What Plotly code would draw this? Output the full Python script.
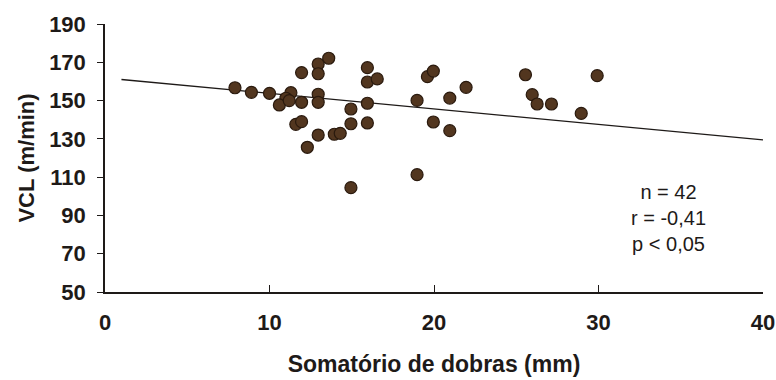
import plotly.graph_objects as go

# Data
somatorio = [7.9, 8.9, 10.0, 11.3, 11.0, 10.6, 11.2, 11.95, 11.95, 11.6, 11.95, 12.3,
             12.96, 12.96, 12.96, 12.96, 12.96, 13.6, 13.94, 14.3, 14.95, 14.95, 14.95,
             15.95, 15.95, 15.95, 15.95, 16.55, 18.97, 18.97, 19.6, 19.96, 19.96,
             20.96, 20.96, 21.95, 25.56, 25.97, 26.27, 27.14, 28.95, 29.92]
vcl = [156.7, 154.3, 153.8, 154.1, 151.2, 147.7, 150.0, 164.6, 149.1, 137.6, 139.0, 125.6,
       169.1, 164.0, 153.3, 149.1, 132.0, 172.1, 132.4, 132.9, 145.6, 137.9, 104.5,
       167.2, 159.7, 148.6, 138.3, 161.3, 150.1, 111.3, 162.5, 165.4, 138.8,
       151.3, 134.3, 156.9, 163.5, 153.1, 148.2, 148.2, 143.3, 163.0]
trend_x = [1, 40]
trend_y = [161.0, 129.5]
x_ticks = [0, 10, 20, 30, 40]
y_ticks = [50, 70, 90, 110, 130, 150, 170, 190]
stats_text = ["n = 42", "r = -0,41", "p < 0,05"]

FONT = "Liberation Sans, Arial, sans-serif"
INK = "#1e1a18"

fig = go.Figure()
fig.add_trace(go.Scatter(x=trend_x, y=trend_y, mode="lines",
                         line=dict(color=INK, width=1.3),
                         showlegend=False, hoverinfo="skip"))
fig.add_trace(go.Scatter(x=somatorio, y=vcl, mode="markers",
                         marker=dict(size=12, color="#52361f",
                                     line=dict(color="#2a1a0e", width=1.2)),
                         showlegend=False, cliponaxis=False))

fig.update_layout(
    width=776, height=380,
    margin=dict(l=105, r=13, t=24, b=88),
    paper_bgcolor="white", plot_bgcolor="white",
    font=dict(family=FONT, color=INK),
    xaxis=dict(range=[0, 40], tickvals=x_ticks, ticks="inside", ticklen=7,
               tickcolor=INK, tickwidth=1.3,
               showline=True, linecolor=INK, linewidth=1.5,
               showgrid=False, zeroline=False, automargin=False,
               ticklabelstandoff=10,
               tickfont=dict(family=FONT, size=22, color=INK, weight="bold"),
               title=dict(text="Somatório de dobras (mm)",
                          font=dict(family=FONT, size=23, color=INK, weight="bold"),
                          standoff=22)),
    yaxis=dict(range=[50, 190], tickvals=y_ticks, ticks="outside", ticklen=6,
               tickcolor=INK, tickwidth=1.3,
               showline=True, linecolor=INK, linewidth=1.5,
               showgrid=False, zeroline=False, automargin=False,
               ticklabelstandoff=7,
               tickfont=dict(family=FONT, size=22, color=INK, weight="bold"),
               title=dict(text="VCL (m/min)",
                          font=dict(family=FONT, size=22, color=INK, weight="bold"),
                          standoff=8)),
)

fig.add_annotation(text="<br>".join(stats_text), xref="x", yref="y",
                   x=34.25, y=88.4, showarrow=False, align="center",
                   font=dict(family=FONT, size=20, color=INK))

fig.write_html(
    "out.html",
    config={"displayModeBar": False},
    post_script="document.body.style.margin='0';document.body.style.overflow='hidden';",
)
